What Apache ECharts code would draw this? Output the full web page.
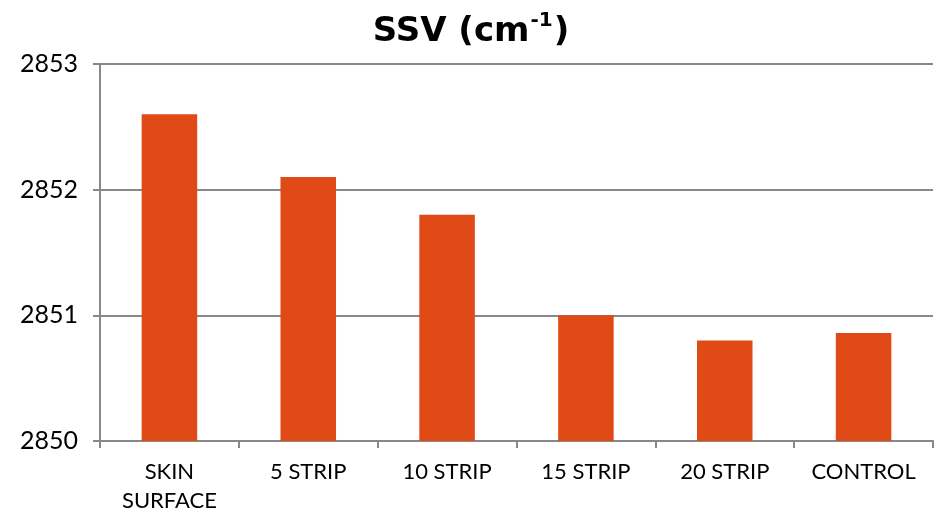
<!DOCTYPE html>
<html><head><meta charset="utf-8">
<script src="https://cdn.jsdelivr.net/npm/echarts@6/dist/echarts.min.js"></script>
<style>html,body{margin:0;padding:0;background:#fff}#c{width:942px;height:515px}</style>
</head><body><div id="c"></div>
<script>
var categories = ['SKIN\nSURFACE', '5 STRIP', '10 STRIP', '15 STRIP', '20 STRIP', 'CONTROL'];
var values = [2852.6, 2852.1, 2851.8, 2851.0, 2850.8, 2850.86];
var yMin = 2850, yMax = 2853, yStep = 1;

var chart = echarts.init(document.getElementById('c'));
chart.setOption({
  animation: false,
  backgroundColor: '#fff',
  title: {
    text: '{t|SSV (cm}{s|-1}{t|)}',
    left: 'center', top: 6,
    textStyle: {
      rich: {
        t: {fontFamily: 'DejaVu Sans', fontWeight: 'bold', fontSize: 34, color: '#000', lineHeight: 42},
        s: {fontFamily: 'DejaVu Sans', fontWeight: 'bold', fontSize: 20, color: '#000', verticalAlign: 'top', lineHeight: 42, padding: [0, 1, 15, 1]}
      }
    }
  },
  grid: {left: 100, right: 9, top: 64, bottom: 72, containLabel: false},
  xAxis: {
    type: 'category', data: categories,
    axisLine: {lineStyle: {color: '#888', width: 2}},
    axisTick: {show: true, alignWithLabel: false, length: 7, lineStyle: {color: '#888', width: 2}},
    axisLabel: {color: '#000', fontFamily: 'Lato', fontSize: 22, margin: 16, lineHeight: 29, interval: 0}
  },
  yAxis: {
    type: 'value', min: yMin, max: yMax, interval: yStep,
    axisLine: {show: true, lineStyle: {color: '#888', width: 2}},
    axisTick: {show: true, length: 7, lineStyle: {color: '#888', width: 2}},
    splitLine: {show: true, lineStyle: {color: '#888', width: 2}},
    axisLabel: {color: '#000', fontFamily: 'Lato', fontSize: 25, margin: 22, formatter: function (v) { return String(v); }}
  },
  series: [{
    type: 'bar', data: values, barWidth: '40%',
    itemStyle: {color: '#E04A16'}
  }]
});
</script></body></html>
